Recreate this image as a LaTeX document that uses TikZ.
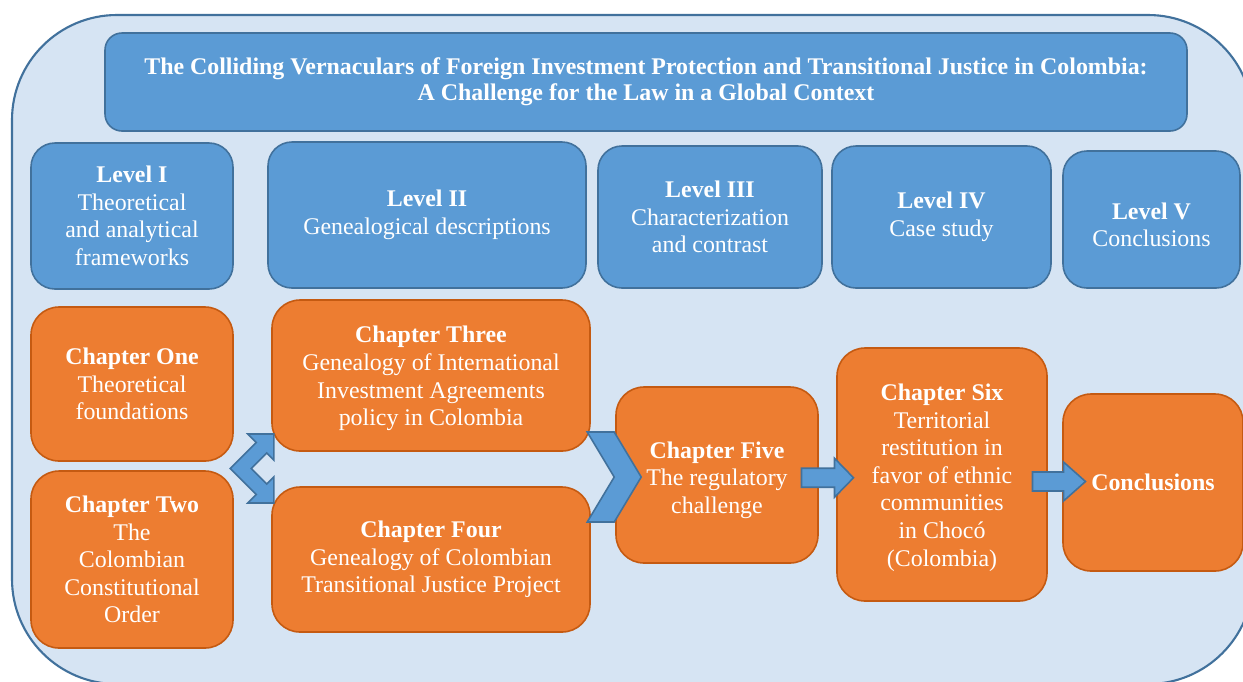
\documentclass[tikz,border=0pt]{standalone}
\usepackage{fontspec}
\setmainfont{Liberation Serif}
\usetikzlibrary{calc}
\definecolor{bgblue}{HTML}{D6E4F3}
\definecolor{bluefill}{HTML}{5B9BD5}
\definecolor{blueline}{HTML}{41719C}
\definecolor{orfill}{HTML}{ED7D31}
\definecolor{orline}{HTML}{C55A11}
\newcommand{\lowertext}[3]{\raisebox{-#1}[\height][\depth]{\parbox{#2}{\centering #3}}}
\begin{document}
\begin{tikzpicture}[x=0.02cm,y=-0.02cm,
  sz/.style 2 args={minimum width=#1*0.02cm, minimum height=#2*0.02cm},
  basebox/.style={line width=0.9pt, text=white, align=center, inner sep=0pt,
    font=\fontsize{13.6}{15.7}\selectfont},
  bluebox/.style={basebox, draw=blueline, fill=bluefill, rounded corners=0.48cm},
  titlebox/.style={basebox, draw=blueline, fill=bluefill, rounded corners=0.34cm,
    font=\fontsize{13.6}{14.8}\selectfont\bfseries},
  orbox/.style={basebox, draw=orline, fill=orfill, rounded corners=0.56cm},
  blockarrow/.style={draw=blueline, fill=bluefill, line width=0.9pt, line join=miter}]
\useasboundingbox (0,0) rectangle (1243,681);
\clip (0,0) rectangle (1243,681);
\fill[white] (0,0) rectangle (1243,681);
% outer frame
\draw[draw=blueline, fill=bgblue, line width=1.2pt, rounded corners=2.1cm] (12,15) rectangle (1253,684);
% title
\node[titlebox, sz={1082}{98}] (title) at (646,82)
  {The Colliding Vernaculars of Foreign Investment Protection and Transitional Justice in Colombia:\\
   A Challenge for the Law in a Global Context};
% levels
\node[bluebox, sz={202}{146}] (l1) at (132,216) {\textbf{Level I}\\Theoretical\\and analytical\\frameworks};
\node[bluebox, sz={318}{146}] (l2) at (427,215) {\textbf{Level II}\\Genealogical descriptions};
\node[bluebox, sz={224}{142}] (l3) at (710,217) {\textbf{Level III}\\Characterization\\and contrast};
\node[bluebox, sz={219}{142}] (l4) at (941.5,217) {\textbf{Level IV}\\Case study};
\node[bluebox, sz={177}{137}] (l5) at (1151.5,219.5) {\lowertext{3pt}{3cm}{\textbf{Level V}\\Conclusions}};
% chapters
\node[orbox, sz={202}{154}] (c1) at (132,384) {\textbf{Chapter One}\\Theoretical\\foundations};
\node[orbox, sz={202}{177}] (c2) at (132,559.5) {\textbf{Chapter Two}\\The\\Colombian\\Constitutional\\Order};
\node[orbox, sz={318}{151}] (c3) at (431,375.5) {\lowertext{1.7pt}{6cm}{\textbf{Chapter Three}\\Genealogy of International\\Investment Agreements\\policy in Colombia}};
\node[orbox, sz={318}{145}] (c4) at (431,559.5) {\textbf{Chapter Four}\\Genealogy of Colombian\\Transitional Justice Project};
\node[orbox, sz={202}{176}] (c5) at (717,475) {\lowertext{2.8pt}{3.8cm}{\textbf{Chapter Five}\\The regulatory\\challenge}};
\node[orbox, sz={210}{253}] (c6) at (942,474.5) {\lowertext{1.7pt}{4cm}{\textbf{Chapter Six}\\Territorial\\restitution in\\favor of ethnic\\communities\\in Chocó\\(Colombia)}};
\node[orbox, sz={180}{177}] (c7) at (1153,482.5) {\textbf{Conclusions}};
% double arrow from chapters one/two to three/four
\coordinate (da) at ($(c1.south east)!0.5!(c2.north east)$);
\draw[blockarrow, shift={(da)}] (40,-32) -- (14,-32) -- (22.5,-23.5) -- (-3.5,2.5) -- (22.5,28.5)
  -- (14,37) -- (40,37) -- (40,11) -- (33,18) -- (17.5,2.5) -- (33,-13) -- (40,-6) -- cycle;
% chevron to chapter five
\coordinate (cv) at ($(c5.west)+(-1,2)$);
\draw[blockarrow, shift={(cv)}] (-27,-45) -- (0,-45) -- (27,0) -- (0,45) -- (-27,45) -- (0,0) -- cycle;
% arrow five -> six
\coordinate (a1) at ($(c5.east)!0.5!(c6.west)+(0,3)$);
\draw[blockarrow, shift={(a1)}] (-26,-9.5) -- (7,-9.5) -- (7,-19.5) -- (26,0) -- (7,19.5) -- (7,9.5) -- (-26,9.5) -- cycle;
% arrow six -> conclusions
\coordinate (a2) at ($(c6.east)!0.5!(c7.west)+(3.5,3)$);
\draw[blockarrow, shift={(a2)}] (-26,-9.5) -- (5,-9.5) -- (5,-19.5) -- (27,0) -- (5,19.5) -- (5,9.5) -- (-26,9.5) -- cycle;
\end{tikzpicture}
\end{document}
